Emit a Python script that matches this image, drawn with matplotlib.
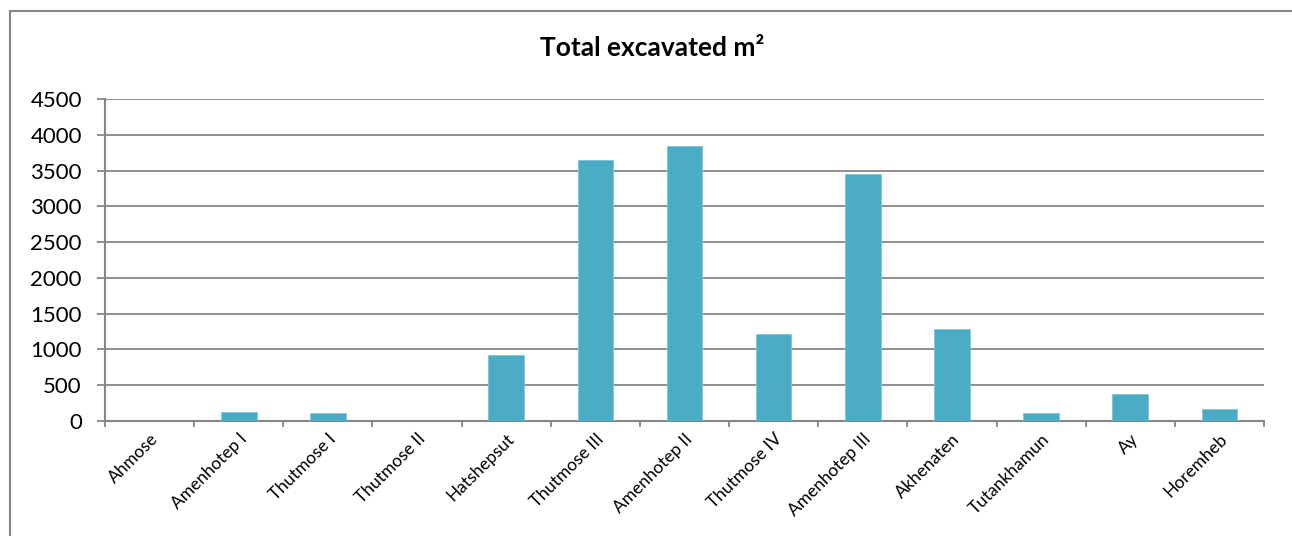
import numpy as np
import matplotlib.pyplot as plt
from matplotlib.lines import Line2D

pharaohs = ['Ahmose', 'Amenhotep I', 'Thutmose I', 'Thutmose II', 'Hatshepsut',
            'Thutmose III', 'Amenhotep II', 'Thutmose IV', 'Amenhotep III',
            'Akhenaten', 'Tutankhamun', 'Ay', 'Horemheb']
excavated = [0, 125, 108, 0, 920, 3645, 3845, 1215, 3450, 1285, 108, 380, 168]
y_ticks = [0, 500, 1000, 1500, 2000, 2500, 3000, 3500, 4000, 4500]

grey = '#868686'
bar_col = '#4BACC6'

plt.rcParams['font.family'] = ['Lato', 'DejaVu Sans']

fig = plt.figure(figsize=(12.92, 5.36), dpi=100)
ax = fig.add_axes([105 / 1292, 1 - 421 / 536, 1159 / 1292, 322 / 536])

# chart border: top and left edges only, the rest runs off the canvas
bx, by = 9.5 / 1292, 1 - 10.5 / 536
fig.lines.append(Line2D([bx, 1.0], [by, by], transform=fig.transFigure,
                        color=grey, lw=1.5))
fig.lines.append(Line2D([bx, bx], [0.0, by], transform=fig.transFigure,
                        color=grey, lw=1.5))

x = np.arange(len(pharaohs))
ax.bar(x, excavated, width=0.4, color=bar_col, edgecolor='#7FC6D8',
       linewidth=0.6, zorder=3)

ax.set_xlim(-0.5, len(pharaohs) - 0.5)
ax.set_ylim(0, 4500)
ax.set_yticks(y_ticks)
ax.set_yticklabels([str(v) for v in y_ticks], fontsize=16)
ax.yaxis.grid(True, color=grey, lw=1.3, zorder=0)

# ticks at category boundaries, labels at category centres
ax.set_xticks(np.arange(len(pharaohs) + 1) - 0.5)
ax.set_xticklabels([])
ax.set_xticks(x, minor=True)
ax.set_xticklabels(pharaohs, minor=True, rotation=45, ha='right',
                   rotation_mode='anchor', fontsize=12.5)
ax.tick_params(axis='x', which='minor', length=0, pad=7)
ax.tick_params(axis='x', which='major', length=4.5, width=1.3, color=grey,
               direction='out')
ax.tick_params(axis='y', length=5.7, width=1.3, color=grey, pad=11)

for s in ['top', 'right']:
    ax.spines[s].set_visible(False)
for s in ['left', 'bottom']:
    ax.spines[s].set_color(grey)
    ax.spines[s].set_linewidth(1.5)

fig.text(652 / 1292, 1 - 48 / 536, 'Total excavated m²', ha='center',
         va='center', fontsize=19, fontweight='bold')

fig.savefig('out.png', dpi=100)
